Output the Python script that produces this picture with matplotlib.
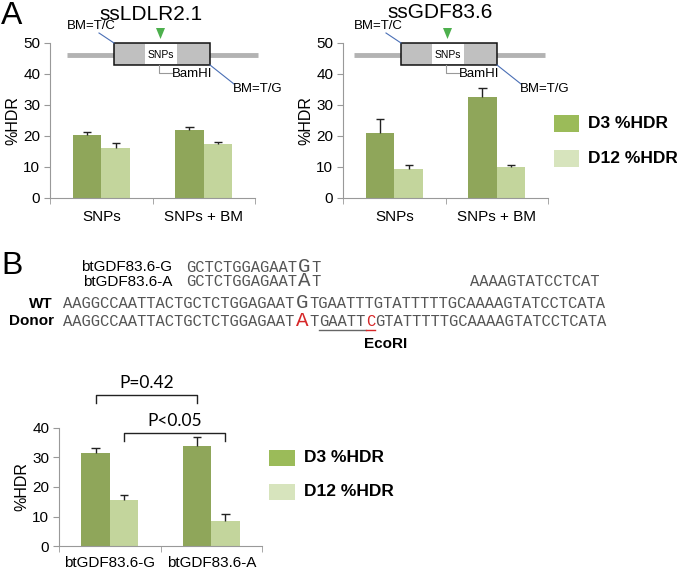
import numpy as np
import matplotlib
matplotlib.use("Agg")
import matplotlib.pyplot as plt
from matplotlib.patches import Rectangle, Polygon

plt.rcParams['font.family'] = ['Liberation Sans', 'DejaVu Sans']

W, H = 677, 572

# datos panel A
cats_a = ['SNPs', 'SNPs + BM']
ldlr_d3 = [20.3, 21.9]
ldlr_d3_err = [0.9, 1.0]
ldlr_d12 = [16.1, 17.3]
ldlr_d12_err = [1.4, 0.8]
gdf_d3 = [21.0, 32.4]
gdf_d3_err = [4.3, 3.1]
gdf_d12 = [9.3, 9.8]
gdf_d12_err = [1.2, 0.8]

# datos panel B
cats_b = ['btGDF83.6-G', 'btGDF83.6-A']
bt_d3 = [31.5, 33.9]
bt_d3_err = [1.6, 2.9]
bt_d12 = [15.5, 8.4]
bt_d12_err = [1.9, 2.4]

series_labels = ['D3 %HDR', 'D12 %HDR']
c_bar = ['#8fa65a', '#c3d59c']
c_leg = ['#9bbb59', '#d7e4bd']
ink = '#222222'
seq_col = '#555555'


def fr(x0, y0, x1, y1):
    return [x0 / W, 1 - y1 / H, (x1 - x0) / W, (y1 - y0) / H]


def error_sup(ax, xs, vals, errs):
    # solo la mitad superior, como en Excel
    tops = np.array(vals) + np.array(errs)
    ax.vlines(xs, vals, tops, color=ink, lw=1, zorder=3)
    ax.hlines(tops, xs - 0.04, xs + 0.04, color=ink, lw=1, zorder=3)


def barras(ax, cats, d3, d3e, d12, d12e, ymax, step, lab_pad):
    x = np.arange(len(cats))
    w = 0.28
    ax.bar(x - w / 2, d3, w, color=c_bar[0], zorder=2)
    ax.bar(x + w / 2, d12, w, color=c_bar[1], zorder=2)
    error_sup(ax, x - w / 2, d3, d3e)
    error_sup(ax, x + w / 2, d12, d12e)
    ax.set_xlim(-0.5, len(cats) - 0.5)
    ax.set_ylim(0, ymax)
    ax.set_yticks(np.arange(0, ymax + 1, step))
    ax.set_xticks(x)
    ax.set_xticklabels(cats, fontsize=11)
    ax.set_xticks(np.arange(-0.5, len(cats), 1), minor=True)
    ax.tick_params(axis='x', which='major', length=0, pad=lab_pad)
    ax.tick_params(axis='x', which='minor', length=4, color='#999999')
    ax.tick_params(axis='y', length=4, color='#999999', labelsize=11, pad=3)
    for s in ['top', 'right']:
        ax.spines[s].set_visible(False)
    for s in ['left', 'bottom']:
        ax.spines[s].set_color('#999999')
    ax.set_ylabel('%HDR', fontsize=11.5, labelpad=2)
    return x, w


fig = plt.figure(figsize=(W / 100, H / 100), dpi=100)

ax1 = fig.add_axes(fr(50, 42.7, 255, 197.7))
barras(ax1, cats_a, ldlr_d3, ldlr_d3_err, ldlr_d12, ldlr_d12_err, 50, 10, 9)
ax2 = fig.add_axes(fr(343, 42.7, 548, 197.7))
barras(ax2, cats_a, gdf_d3, gdf_d3_err, gdf_d12, gdf_d12_err, 50, 10, 9)
ax3 = fig.add_axes(fr(59, 427.7, 262, 546.3))
xb, wb = barras(ax3, cats_b, bt_d3, bt_d3_err, bt_d12, bt_d12_err, 40, 10, 7)

# corchetes de significancia
def corchete(ax, x0, x1, ytop, ybot, txt, ytxt):
    ax.plot([x0, x0, x1, x1], [ybot, ytop, ytop, ybot], color=ink, lw=1,
            clip_on=False)
    ax.text((x0 + x1) / 2, ytxt, txt, ha='center', va='center',
            fontsize=12.5, family='Lato', clip_on=False)

corchete(ax3, xb[0] - wb / 2, xb[1] - wb / 2, 51.0, 48.4, 'P=0.42', 55.0)
corchete(ax3, xb[0] + wb / 2, xb[1] + wb / 2, 38.3, 35.5, 'P<0.05', 42.3)

# capa de anotaciones en pixeles
ov = fig.add_axes([0, 0, 1, 1])
ov.set_xlim(0, W)
ov.set_ylim(H, 0)
ov.axis('off')

ov.text(1, 16, 'A', fontsize=23, va='center', ha='left')
ov.text(1, 266, 'B', fontsize=23, va='center', ha='left')
ov.text(151, 14, 'ssLDLR2.1', fontsize=15, ha='center', va='center')
ov.text(440, 13, 'ssGDF83.6', fontsize=15, ha='center', va='center')


def esquema(dx):
    ov.plot([67 + dx, 258 + dx], [54.5, 54.5], color='#b3b3b3', lw=3.5,
            solid_capstyle='butt', zorder=1)
    ov.add_patch(Rectangle((114 + dx, 43), 96, 22, facecolor='#c0c0c0',
                           edgecolor='#111111', lw=1.1, zorder=2))
    ov.add_patch(Rectangle((145 + dx, 43.6), 32, 20.8, facecolor='white',
                           edgecolor='none', zorder=3))
    ov.text(161 + dx, 55, 'SNPs', fontsize=7.5, ha='center', va='center',
            zorder=4)
    ov.add_patch(Polygon([[156 + dx, 28], [165 + dx, 28], [160.5 + dx, 39]],
                         closed=True, facecolor='#4db04d', edgecolor='none'))
    ov.plot([159 + dx, 159 + dx, 172 + dx], [65, 73, 73], color='#999999',
            lw=0.8)
    ov.text(172 + dx, 74, 'BamHI', fontsize=9.5, ha='left', va='center')
    ov.text(67 + dx, 26, 'BM=T/C', fontsize=9.5, ha='left', va='center')
    ov.plot([99 + dx, 114 + dx], [33, 43], color='#4a6fb5', lw=0.8)
    ov.plot([210 + dx, 234 + dx], [65, 84], color='#4a6fb5', lw=0.8)
    ov.text(233 + dx, 89, 'BM=T/G', fontsize=9.5, ha='left', va='center')

esquema(0)
esquema(287)


def leyenda(x, y0, dy, ancho, alto, fs):
    for i, lab in enumerate(series_labels):
        y = y0 + i * dy
        ov.add_patch(Rectangle((x, y), ancho, alto, facecolor=c_leg[i],
                               edgecolor='none'))
        ov.text(x + ancho + 9, y + alto / 2, lab, fontsize=fs,
                fontweight='bold', ha='left', va='center')

leyenda(554, 115, 35, 25, 17, 12.5)
leyenda(269, 449.7, 34, 26, 16.5, 12.5)

# secuencias
FS = 11.2
FB = 15.0
def cw(fs):
    return 0.6 * fs * 100 / 72


def secuencia(x, y, partes):
    for txt, big, col in partes:
        fs = FB if big else FS
        ov.text(x, y, txt, fontsize=fs, family='Liberation Mono',
                color=col, ha='left', va='baseline')
        x += len(txt) * cw(fs) + (1 if big else 0)
    return x

ov.text(172, 267, 'btGDF83.6-G', fontsize=11, ha='right', va='center')
ov.text(172, 282, 'btGDF83.6-A', fontsize=11, ha='right', va='center')
ov.text(53, 304, 'WT', fontsize=11, fontweight='bold', ha='right',
        va='center')
ov.text(54, 321, 'Donor', fontsize=11, fontweight='bold', ha='right',
        va='center')

secuencia(186, 271.5, [('GCTCTGGAGAAT', False, seq_col), ('G', True, seq_col),
                       ('T', False, seq_col)])
secuencia(186, 286.5, [('GCTCTGGAGAAT', False, seq_col), ('A', True, seq_col),
                       ('T', False, seq_col)])
secuencia(470, 286.5, [('AAAAGTATCCTCAT', False, seq_col)])
secuencia(63, 308.5, [('AAGGCCAATTACTGCTCTGGAGAAT', False, seq_col),
                      ('G', True, seq_col),
                      ('TGAATTTGTATTTTTGCAAAAGTATCCTCATA', False, seq_col)])
xd = secuencia(63, 325.5, [('AAGGCCAATTACTGCTCTGGAGAAT', False, seq_col),
                           ('A', True, '#d62728'), ('T', False, seq_col)])
xe = secuencia(xd, 325.5, [('GAATT', False, seq_col)])
xf = secuencia(xe, 325.5, [('C', False, '#d62728')])
secuencia(xf, 325.5, [('GTATTTTTGCAAAAGTATCCTCATA', False, seq_col)])
ov.plot([xd, xe], [330, 330], color='#666666', lw=1)
ov.plot([xe, xf], [330, 330], color='#d62728', lw=1)
ov.text(386, 344, 'EcoRI', fontsize=11, fontweight='bold', ha='center',
        va='center')

fig.savefig('out.png', dpi=100)
